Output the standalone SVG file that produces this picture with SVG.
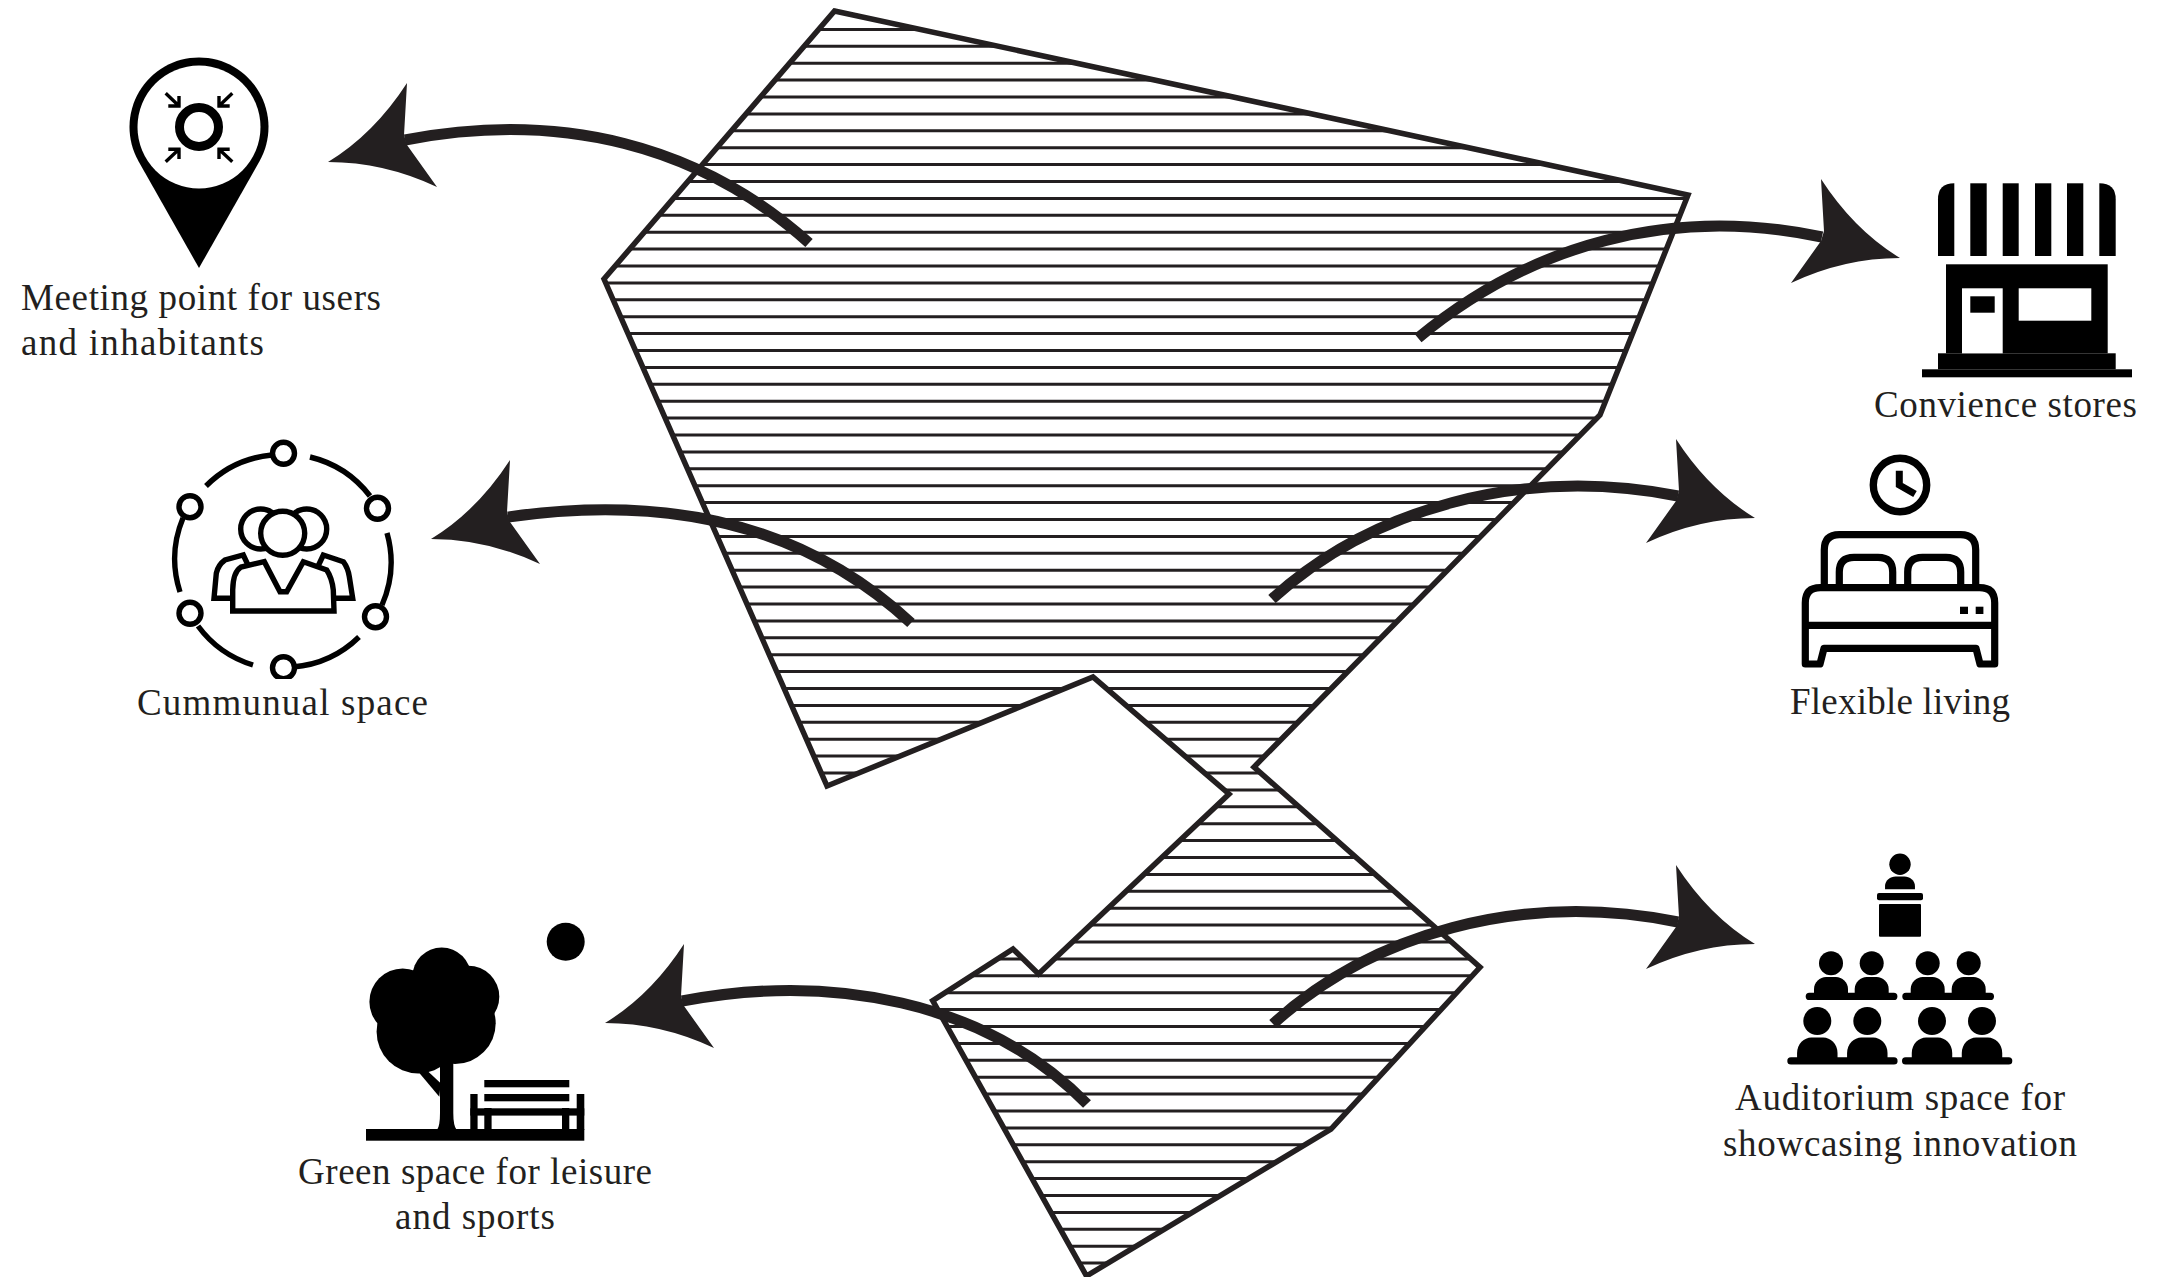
<svg xmlns="http://www.w3.org/2000/svg" width="2167" height="1277" viewBox="0 0 2167 1277">
<style>
.lbl{font-family:"Liberation Serif","Times New Roman",serif;font-size:37px;fill:#231f20}
.site{fill:none;stroke:#231f20;stroke-width:5.5;stroke-linejoin:miter}
.hatch{fill:none;stroke:#231f20;stroke-width:3}
.shaft{fill:none;stroke:#231f20;stroke-width:11;stroke-linecap:butt}
.head{fill:#231f20}
.k{fill:#000}
.w{fill:#fff}
.ol{fill:none;stroke:#000;stroke-width:5.4}
.olw{fill:#fff;stroke:#000;stroke-width:5.4;stroke-linejoin:miter}
.bd{fill:none;stroke:#000;stroke-width:7.2;stroke-linejoin:round}
</style>
<defs>
<path id="arrowhead" d="M0 0Q46 -28 79 -79L76 -27L79 -17L109 25Q56 0 0 0Z"/>
<path id="person" d="M-17 0V-4C-17 -11 -11 -16 -5 -16H5C11 -16 17 -11 17 -4V0Z"/>
<clipPath id="siteclip"><path d="M834.5 11L1688 195L1600 415L1254 767L1480 967.3L1331 1129L1086.5 1276L932.7 1000.7L1013 949L1038.5 974L1229 794L1093 677L827 786L604 279Z"/></clipPath>
<clipPath id="ringclip"><rect x="160" y="430" width="250" height="249"/></clipPath>
</defs>
<rect width="2167" height="1277" fill="#fff"/>
<g id="site">
<path class="hatch" clip-path="url(#siteclip)" d="M560 29.4H1720M560 46.3H1720M560 63.2H1720M560 80.1H1720M560 97H1720M560 113.9H1720M560 130.8H1720M560 147.7H1720M560 164.6H1720M560 181.5H1720M560 198.4H1720M560 215.3H1720M560 232.2H1720M560 249.1H1720M560 266H1720M560 282.9H1720M560 299.8H1720M560 316.7H1720M560 333.6H1720M560 350.5H1720M560 367.4H1720M560 384.3H1720M560 401.2H1720M560 418.1H1720M560 435H1720M560 451.9H1720M560 468.8H1720M560 485.7H1720M560 502.6H1720M560 519.5H1720M560 536.4H1720M560 553.3H1720M560 570.2H1720M560 587.1H1720M560 604H1720M560 620.9H1720M560 637.8H1720M560 654.7H1720M560 671.6H1720M560 688.5H1720M560 705.4H1720M560 722.3H1720M560 739.2H1720M560 756.1H1720M560 773H1720M560 789.9H1720M560 806.8H1720M560 823.7H1720M560 840.6H1720M560 857.5H1720M560 874.4H1720M560 891.3H1720M560 908.2H1720M560 925.1H1720M560 942H1720M560 958.9H1720M560 975.8H1720M560 992.7H1720M560 1009.6H1720M560 1026.5H1720M560 1043.4H1720M560 1060.3H1720M560 1077.2H1720M560 1094.1H1720M560 1111H1720M560 1127.9H1720M560 1144.8H1720M560 1161.7H1720M560 1178.6H1720M560 1195.5H1720M560 1212.4H1720M560 1229.3H1720M560 1246.2H1720M560 1263.1H1720"/>
<path class="site" d="M834.5 11L1688 195L1600 415L1254 767L1480 967.3L1331 1129L1086.5 1276L932.7 1000.7L1013 949L1038.5 974L1229 794L1093 677L827 786L604 279Z"/>
</g>
<g id="connectors">
<path class="shaft" d="M809 243C700 145 560 110 405 140"/>
<use href="#arrowhead" class="head" transform="translate(328 162)"/>
<path class="shaft" d="M911 623C800 520 660 495 508 517"/>
<use href="#arrowhead" class="head" transform="translate(431 539)"/>
<path class="shaft" d="M1418 338C1530 245 1670 205 1822 237"/>
<use href="#arrowhead" class="head" transform="translate(1900 258) scale(-1 1)"/>
<path class="shaft" d="M1272 599C1370 510 1520 465 1678 496"/>
<use href="#arrowhead" class="head" transform="translate(1755 518) scale(-1 1)"/>
<path class="shaft" d="M1087 1104C985 1000 830 973 682 1001"/>
<use href="#arrowhead" class="head" transform="translate(605 1023)"/>
<path class="shaft" d="M1273 1024C1370 935 1520 890 1678 922"/>
<use href="#arrowhead" class="head" transform="translate(1755 944) scale(-1 1)"/>
</g>
<g id="node-meeting">
<path class="k" d="M138.5 161.2A69.5 69.5 0 1 1 259.5 161.2L199 268L138.5 161.2Z"/>
<circle class="w" cx="199" cy="127" r="61.5"/>
<circle cx="199" cy="127" r="19.5" fill="none" stroke="#000" stroke-width="9"/>
<path fill="none" stroke="#000" stroke-width="3.4" d="M165.7 93.3L179 106M179 96V107.5M168.3 106H180.5M232.3 93.3L219 106M219 96V107.5M229.7 106H217.5M165.7 161.7L179 149.3M179 159V147.8M168.3 149.3H180.5M232.3 161.7L219 149.3M219 159V147.8M229.7 149.3H217.5"/>
<text class="lbl" x="21" y="309.5" textLength="360">Meeting point for users</text>
<text class="lbl" x="21" y="354.5" textLength="243">and inhabitants</text>
</g>
<g id="node-communal">
<g clip-path="url(#ringclip)">
<path class="ol" d="M206 486A107 107 0 0 1 272 455M310 457A107 107 0 0 1 370 496M387 533A107 107 0 0 1 382 605M359 637A107 107 0 0 1 293 667M253 665A107 107 0 0 1 198 626M180 592A107 107 0 0 1 183 518"/>
<circle class="ol" cx="283.5" cy="453.3" r="11"/>
<circle class="ol" cx="377.5" cy="508.3" r="11"/>
<circle class="ol" cx="375.5" cy="616.7" r="11"/>
<circle class="ol" cx="283.5" cy="667.7" r="11"/>
<circle class="ol" cx="190" cy="613.3" r="11"/>
<circle class="ol" cx="190" cy="506.7" r="11"/>
</g>
<circle class="olw" cx="260.7" cy="529" r="20"/>
<circle class="olw" cx="306.7" cy="529" r="20"/>
<circle class="olw" cx="282.7" cy="533.3" r="22"/>
<path class="olw" d="M248.3 565.7L243.3 555L225 560Q218 565 216.3 573.3L214 598.3H233.3"/>
<path class="olw" d="M318.3 565.7L323.3 555L343.3 561.7Q348 568 349.3 576.7L352.7 598.3H333.3"/>
<path class="olw" d="M232.7 611V590Q233 572 241 567L264.3 561.7L280 591.7H286.7L303.3 561.7L326.7 570Q332 578 333.3 590L334 611Z"/>
<text class="lbl" x="137" y="714.5" textLength="291">Cummunual space</text>
</g>
<g id="node-green">
<circle class="k" cx="565.7" cy="941.7" r="19"/>
<circle class="k" cx="441.7" cy="976.7" r="29.3"/>
<circle class="k" cx="402.7" cy="1001.7" r="33.3"/>
<circle class="k" cx="468.3" cy="996.7" r="31"/>
<circle class="k" cx="418.3" cy="1031.7" r="41.7"/>
<circle class="k" cx="455" cy="1023.3" r="40.7"/>
<circle class="k" cx="435" cy="1010" r="45"/>
<path class="k" d="M440 1060V1113Q440 1126 437 1130H456.7Q453.3 1126 453.3 1113V1060Z"/>
<path class="k" d="M418.3 1071.7L439.3 1096.7L440.7 1083.3L427.3 1070.7Z"/>
<rect class="k" x="366" y="1129" width="218.3" height="11.7"/>
<rect class="k" x="484.3" y="1080" width="85" height="7.3"/>
<rect class="k" x="484.3" y="1094" width="85" height="7.3"/>
<rect class="k" x="470.3" y="1094" width="7.3" height="36"/>
<rect class="k" x="576.7" y="1094" width="7.6" height="36"/>
<rect class="k" x="470.3" y="1108.3" width="114" height="7.3"/>
<rect class="k" x="484.3" y="1108" width="7.3" height="22"/>
<rect class="k" x="562" y="1108" width="7.3" height="22"/>
<text class="lbl" x="298" y="1184" textLength="354">Green space for leisure</text>
<text class="lbl" x="395" y="1229" textLength="160">and sports</text>
</g>
<g id="node-stores">
<path class="k" d="M1938 256V199.3Q1938 183.3 1954.3 183.3V256Z"/>
<rect class="k" x="1970.3" y="183.3" width="16.4" height="72.7"/>
<rect class="k" x="2002.7" y="183.3" width="16" height="72.7"/>
<rect class="k" x="2035" y="183.3" width="16.3" height="72.7"/>
<rect class="k" x="2067" y="183.3" width="16.3" height="72.7"/>
<path class="k" d="M2115.7 256V199.3Q2115.7 183.3 2099.3 183.3V256Z"/>
<rect class="k" x="1946" y="264.3" width="161.7" height="89"/>
<rect class="k" x="1938" y="353.3" width="177.7" height="16"/>
<rect class="k" x="1922" y="369.3" width="210" height="8"/>
<rect class="w" x="1962" y="288.3" width="40.7" height="65"/>
<rect class="k" x="1970.3" y="296.3" width="24.4" height="16.4"/>
<rect class="w" x="2018.7" y="288.3" width="72.6" height="32.4"/>
<text class="lbl" x="1874" y="417" textLength="263">Convience stores</text>
</g>
<g id="node-living">
<circle cx="1900" cy="485" r="26.7" fill="none" stroke="#000" stroke-width="7.4"/>
<path fill="none" stroke="#000" stroke-width="7" d="M1899.3 470.7V485L1915 494"/>
<path class="bd" d="M1824.3 587V550Q1824.3 534.7 1839.3 534.7H1960.7Q1975.7 534.7 1975.7 550V587"/>
<path class="bd" d="M1839.3 587V572Q1839.3 557.3 1854 557.3H1878Q1892.7 557.3 1892.7 572V587M1907.7 587V572Q1907.7 557.3 1922.5 557.3H1946Q1960.7 557.3 1960.7 572V587"/>
<path class="bd" d="M1805.3 664V602.7Q1805.3 587.7 1820.3 587.7H1979.7Q1994.7 587.7 1994.7 602.7V664H1980L1976 648.3H1824L1820 664Z"/>
<path class="bd" d="M1805.3 625.3H1994.7"/>
<rect class="k" x="1960" y="606.7" width="8" height="7.3"/>
<rect class="k" x="1975.7" y="606.7" width="7.7" height="7.3"/>
<text class="lbl" x="1790" y="714" textLength="220">Flexible living</text>
</g>
<g id="node-auditorium">
<circle class="k" cx="1900" cy="864.3" r="10.7"/>
<use href="#person" class="k" transform="translate(1900 889.3) scale(.88 .8)"/>
<rect class="k" x="1877" y="893" width="46" height="7.3" rx="2"/>
<rect class="k" x="1879" y="904" width="42" height="32.7" rx="1"/>
<circle class="k" cx="1831" cy="963.3" r="12"/>
<circle class="k" cx="1871.7" cy="963.3" r="12"/>
<circle class="k" cx="1927.7" cy="963.3" r="12"/>
<circle class="k" cx="1968.7" cy="963.3" r="12"/>
<use href="#person" class="k" transform="translate(1831 993)"/>
<use href="#person" class="k" transform="translate(1871.7 993)"/>
<use href="#person" class="k" transform="translate(1927.7 993)"/>
<use href="#person" class="k" transform="translate(1968.7 993)"/>
<rect class="k" x="1805.7" y="992.7" width="91.7" height="7.3" rx="3.6"/>
<rect class="k" x="1902.3" y="992.7" width="91.7" height="7.3" rx="3.6"/>
<circle class="k" cx="1817.3" cy="1021" r="14"/>
<circle class="k" cx="1867.3" cy="1021" r="14"/>
<circle class="k" cx="1932" cy="1021" r="14"/>
<circle class="k" cx="1982" cy="1021" r="14"/>
<use href="#person" class="k" transform="translate(1817.3 1058) scale(1.19 1.28)"/>
<use href="#person" class="k" transform="translate(1867.3 1058) scale(1.19 1.28)"/>
<use href="#person" class="k" transform="translate(1932 1058) scale(1.19 1.28)"/>
<use href="#person" class="k" transform="translate(1982 1058) scale(1.19 1.28)"/>
<rect class="k" x="1787.3" y="1057.3" width="110.3" height="7.3" rx="3.6"/>
<rect class="k" x="1902" y="1057.3" width="110.3" height="7.3" rx="3.6"/>
<text class="lbl" x="1735" y="1110" textLength="330">Auditorium space for</text>
<text class="lbl" x="1723" y="1156" textLength="354">showcasing innovation</text>
</g>
</svg>
